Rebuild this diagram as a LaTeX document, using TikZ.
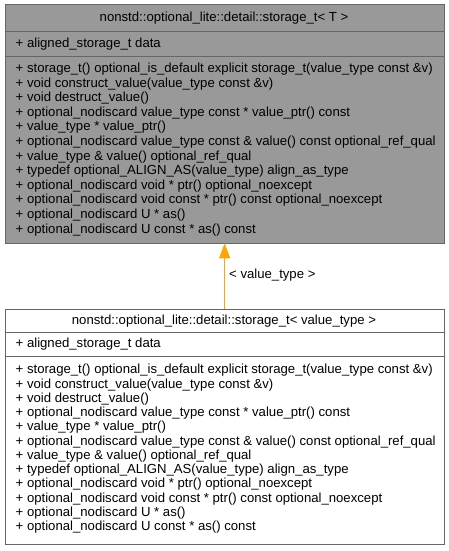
\documentclass[tikz,border=0pt]{standalone}
\usepackage{fontspec}
\setmainfont{Liberation Sans}
\usetikzlibrary{arrows.meta}
\definecolor{fillgray}{HTML}{999999}
\definecolor{edgegray}{HTML}{666666}
\definecolor{arroworange}{HTML}{FFA500}
\tikzset{
  classbox/.style={draw=edgegray, line width=0.8pt, inner sep=0pt, anchor=north west, minimum width=439.5pt},
  divider/.style={draw=edgegray, line width=0.8pt},
  txt/.style={inner sep=0pt, anchor=west, font=\fontsize{13.15}{15}\selectfont},
  ttl/.style={inner sep=0pt, anchor=center, font=\fontsize{13.15}{15}\selectfont},
  inherit/.style={draw=arroworange, line width=0.9pt, -{Triangle[length=15pt,width=11pt]}}
}
\newcommand{\methodlist}{%
  {+ storage\_t() optional\_is\_default explicit storage\_t(value\_type const \&v)},
  {+ void construct\_value(value\_type const \&v)},
  {+ void destruct\_value()},
  {+ optional\_nodiscard value\_type const * value\_ptr() const},
  {+ value\_type * value\_ptr()},
  {+ optional\_nodiscard value\_type const \& value() const optional\_ref\_qual},
  {+ value\_type \& value() optional\_ref\_qual},
  {+ typedef optional\_ALIGN\_AS(value\_type) align\_as\_type},
  {+ optional\_nodiscard void * ptr() optional\_noexcept},
  {+ optional\_nodiscard void const * ptr() const optional\_noexcept},
  {+ optional\_nodiscard U * as()},
  {+ optional\_nodiscard U const * as() const}}
\begin{document}
\begin{tikzpicture}[x=1pt,y=-1pt]
\useasboundingbox (0,0) rectangle (449,551);
% top class
\node[classbox, fill=fillgray, minimum height=238pt] (top) at (4.5,4.5) {};
\draw[divider] (top.west |- 0,31) -- (top.east |- 0,31);
\draw[divider] (top.west |- 0,56.5) -- (top.east |- 0,56.5);
\node[ttl] (toptitle) at (224,18) {nonstd::optional\_lite::detail::storage\_t< T >};
\node[txt] (topattr) at (15.5,44) {+ aligned\_storage\_t data};
\foreach [count=\i] \m in \methodlist {
  \node[txt] (topm\i) at (15.5,{69+(\i-1)*14.6}) {\m};
}
% bottom class
\node[classbox, fill=white, minimum height=235pt] (bot) at (4.5,308.5) {};
\draw[divider] (bot.west |- 0,332.7) -- (bot.east |- 0,332.7);
\draw[divider] (bot.west |- 0,356.7) -- (bot.east |- 0,356.7);
\node[ttl] (bottitle) at (224,321) {nonstd::optional\_lite::detail::storage\_t< value\_type >};
\node[txt] (botattr) at (15.5,344.5) {+ aligned\_storage\_t data};
\foreach [count=\i] \m in \methodlist {
  \node[txt] (botm\i) at (15.5,{370.5+(\i-1)*14.25}) {\m};
}
% inheritance arrow
\draw[inherit] (bot.north) -- (top.south);
\node[txt] (lbl) at (229,275) {< value\_type >};
\end{tikzpicture}
\end{document}
